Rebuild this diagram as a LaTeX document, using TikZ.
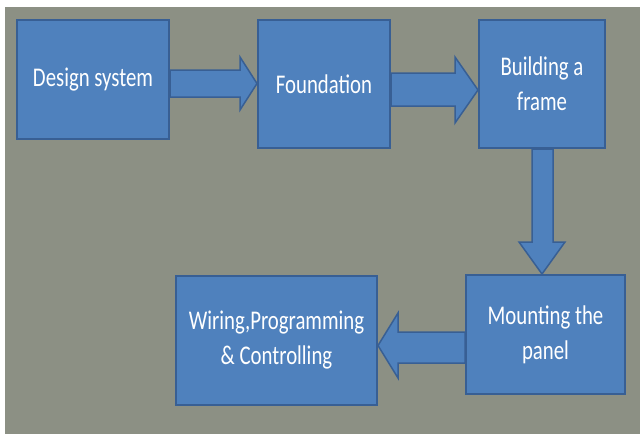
\documentclass[tikz,border=0pt]{standalone}
\usepackage{fontspec}
\setmainfont{Carlito}
\newfontfamily\boxfont[FakeStretch=0.77]{Carlito}
\definecolor{bg}{RGB}{140,144,132}
\definecolor{boxfill}{RGB}{79,129,189}
\definecolor{boxline}{RGB}{56,95,148}
\tikzset{
  blk/.style={draw=boxline, line width=2pt, fill=boxfill, text=white, align=center,
    font=\boxfont\fontsize{27}{35}\selectfont, inner sep=0pt, anchor=north west},
  arr/.style={draw=boxline, line width=1.5pt, fill=boxfill, line join=miter}
}
\begin{document}
\begin{tikzpicture}[x=1pt,y=-1pt]
\useasboundingbox (0,0) rectangle (640,434);
\fill[white] (0,0) rectangle (640,434);
\fill[bg] (5,7) rectangle (640,434);
% boxes
\node[blk, minimum width=152pt, minimum height=119pt] (ds) at (16,19) {Design system};
\node[blk, minimum width=132pt, minimum height=128pt] (fd) at (257,19) {Foundation};
\node[blk, minimum width=126pt, minimum height=128pt] (bf) at (478,19) {Building a\\frame};
\node[blk, minimum width=159pt, minimum height=119pt] (mp) at (465,274) {Mounting the\\panel};
\node[blk, minimum width=201pt, minimum height=129pt] (wp) at (175,275) {Wiring,Programming\\\& Controlling};
% block arrows
\draw[arr] (ds.east |- 0,70) -- (240,70) -- (240,57) -- (fd.west |- 0,83.5)
  -- (240,110) -- (240,97) -- (ds.east |- 0,97) -- cycle;
\draw[arr] (fd.east |- 0,73) -- (455,73) -- (455,57) -- (bf.west |- 0,90)
  -- (455,123) -- (455,106) -- (fd.east |- 0,106) -- cycle;
\draw[arr] (532,0 |- bf.south) -- (532,242) -- (519,242) -- (542,0 |- mp.north)
  -- (565,242) -- (553,242) -- (553,0 |- bf.south) -- cycle;
\draw[arr] (mp.west |- 0,332) -- (398,332) -- (398,313) -- (wp.east |- 0,345.5)
  -- (398,378) -- (398,363) -- (mp.west |- 0,363) -- cycle;
\end{tikzpicture}
\end{document}
